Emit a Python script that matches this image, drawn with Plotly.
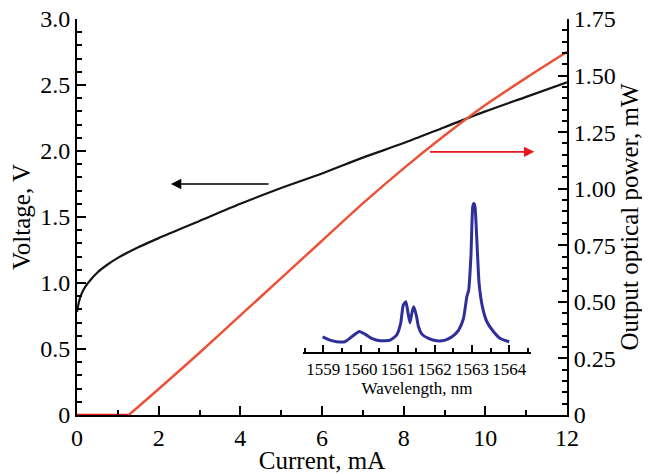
import plotly.graph_objects as go

# ---- data ----
current_v = [0, 0.05, 0.1, 0.2, 0.35, 0.5, 0.75, 1.0, 1.5, 2, 3, 4, 5, 6, 7, 8, 9, 10, 11, 12]
voltage = [0.78, 0.86, 0.91, 0.97, 1.03, 1.08, 1.14, 1.19, 1.27, 1.34, 1.47, 1.60, 1.72, 1.83, 1.95, 2.06, 2.18, 2.30, 2.41, 2.52]

current_p_off = [0, 1.27]
power_off = [0, 0]
current_p = [1.27, 2, 3, 4, 5, 6, 7, 8, 9, 10, 11, 12]
power = [0, 0.115, 0.275, 0.44, 0.605, 0.77, 0.935, 1.09, 1.235, 1.37, 1.49, 1.605]

wavelength = [1558.98, 1559.18, 1559.36, 1559.58, 1559.76, 1559.97, 1560.12, 1560.30, 1560.53, 1560.80,
              1560.97, 1561.08, 1561.15, 1561.22, 1561.28, 1561.33, 1561.38, 1561.43, 1561.50, 1561.56,
              1561.65, 1561.83, 1562.05, 1562.28, 1562.46, 1562.64, 1562.77, 1562.86, 1562.91, 1562.97,
              1563.02, 1563.05, 1563.08, 1563.13, 1563.19, 1563.28, 1563.40, 1563.58, 1563.76, 1564.0]
intensity = [0.105, 0.083, 0.072, 0.072, 0.105, 0.141, 0.123, 0.094, 0.078, 0.083,
             0.116, 0.195, 0.318, 0.340, 0.262, 0.199, 0.262, 0.306, 0.251, 0.172,
             0.123, 0.094, 0.078, 0.083, 0.105, 0.150, 0.228, 0.374, 0.418, 0.642,
             0.98, 1.0, 0.98, 0.754, 0.463, 0.306, 0.206, 0.139, 0.094, 0.072]

v_ticks = [0, 0.5, 1.0, 1.5, 2.0, 2.5, 3.0]
v_ticktext = ["0", "0.5", "1.0", "1.5", "2.0", "2.5", "3.0"]
p_ticks = [0, 0.25, 0.5, 0.75, 1.0, 1.25, 1.5, 1.75]
p_ticktext = ["0", "0.25", "0.50", "0.75", "1.00", "1.25", "1.50", "1.75"]
i_ticks = [0, 2, 4, 6, 8, 10, 12]
wl_ticks = [1559, 1560, 1561, 1562, 1563, 1564]

# arrows (tail -> head), data coords
black_arrow = dict(tail=(4.73, 1.75), head=(2.30, 1.75))
red_arrow = dict(tail=(8.61, 1.163), head=(11.2, 1.163))

FONT = "Liberation Serif"

fig = go.Figure()
fig.add_trace(go.Scatter(x=current_v, y=voltage, mode="lines", line=dict(color="#151515", width=2.2, shape="spline", smoothing=0.8),
                         xaxis="x", yaxis="y", showlegend=False))
fig.add_trace(go.Scatter(x=current_p_off, y=power_off, mode="lines", line=dict(color="#e3151b", width=2.5),
                         xaxis="x", yaxis="y2", showlegend=False))
fig.add_trace(go.Scatter(x=current_p, y=power, mode="lines", line=dict(color="#ec5238", width=2.5, shape="spline", smoothing=0.6),
                         xaxis="x", yaxis="y2", showlegend=False))
fig.add_trace(go.Scatter(x=wavelength, y=intensity, mode="lines", line=dict(color="#2f2f9c", width=3, shape="spline", smoothing=0.5),
                         xaxis="x3", yaxis="y3", showlegend=False))

axis_common = dict(showline=True, linecolor="black", linewidth=2, ticks="inside", tickcolor="black",
                   tickwidth=1.5, ticklen=9, showgrid=False, zeroline=False, automargin=False,
                   ticklabeloverflow="allow",
                   tickfont=dict(family=FONT, size=24, color="black"))

# the page body has an 8px margin, so the figure is sized to fit the 650x474 window
fig.update_layout(
    width=642, height=466,
    margin=dict(l=69, r=83, t=11, b=59),
    paper_bgcolor="white", plot_bgcolor="rgba(0,0,0,0)",
    font=dict(family=FONT, color="black"),
    xaxis=dict(**axis_common, range=[0, 12], tickvals=i_ticks, domain=[0, 1],
               minor=dict(dtick=1, ticks="inside", ticklen=5, tickcolor="black", tickwidth=1.5),
               title=dict(text="Current, mA", font=dict(family=FONT, size=25), standoff=0)),
    yaxis=dict(**axis_common, range=[0, 3.0], tickvals=v_ticks, ticktext=v_ticktext,
               minor=dict(dtick=0.1, tick0=0, ticks="inside", ticklen=5, tickcolor="black", tickwidth=1.5),
               title=dict(text="Voltage, V", font=dict(family=FONT, size=25), standoff=4)),
    yaxis2=dict(**axis_common, range=[0, 1.75], tickvals=p_ticks, ticktext=p_ticktext,
                overlaying="y", side="right", anchor="x",
                minor=dict(dtick=0.05, tick0=0, ticks="inside", ticklen=5, tickcolor="black", tickwidth=1.5),
                title=dict(text="Output optical power, mW", font=dict(family=FONT, size=25), standoff=4)),
    xaxis3=dict(domain=[0.4618, 0.926], anchor="y3", range=[1558.46, 1564.58], tickvals=wl_ticks,
                showline=True, linecolor="black", linewidth=1.5, ticks="inside", ticklen=8, tickwidth=1.5,
                tickcolor="black", showgrid=False, zeroline=False, tickangle=0, automargin=False,
                minor=dict(dtick=0.5, tick0=1559, ticks="inside", ticklen=5, tickcolor="black", tickwidth=1.5),
                tickfont=dict(family=FONT, size=17, color="black"),
                title=dict(text="Wavelength, nm", font=dict(family=FONT, size=17), standoff=0)),
    yaxis3=dict(domain=[0.158, 0.553], anchor="x3", range=[0, 1.05], visible=False),
)

fig.add_annotation(x=black_arrow["head"][0], y=black_arrow["head"][1], ax=black_arrow["tail"][0], ay=black_arrow["tail"][1],
                   xref="x", yref="y", axref="x", ayref="y", text="", showarrow=True,
                   arrowhead=2, arrowsize=1.3, arrowwidth=1.6, arrowcolor="black")
fig.add_annotation(x=red_arrow["head"][0], y=red_arrow["head"][1], ax=red_arrow["tail"][0], ay=red_arrow["tail"][1],
                   xref="x", yref="y2", axref="x", ayref="y2", text="", showarrow=True,
                   arrowhead=2, arrowsize=1.3, arrowwidth=1.6, arrowcolor="#e8161e")

fig.write_html("out.html")
